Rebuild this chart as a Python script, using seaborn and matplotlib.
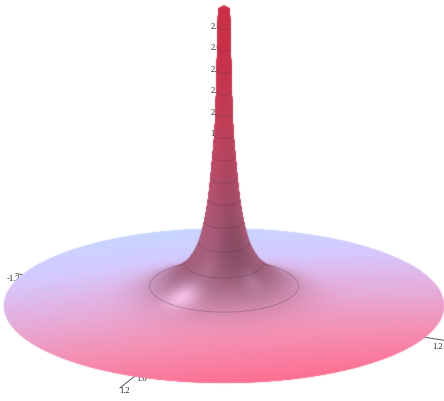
import numpy as np
import matplotlib
matplotlib.use("Agg")
import matplotlib.pyplot as plt
import seaborn as sns
from mpl_toolkits.mplot3d import proj3d

# Radial profile of the surface
profile_r = [0.029, 0.031, 0.034, 0.037, 0.040, 0.043, 0.049, 0.060, 0.070, 0.083, 0.103,
             0.131, 0.196, 0.393, 0.55, 0.75, 1.00, 1.20]
profile_z = [3.00, 2.80, 2.60, 2.40, 2.20, 2.00, 1.80, 1.60, 1.40, 1.20, 1.00,
             0.80, 0.60, 0.40, 0.31, 0.26, 0.23, 0.215]
contour_levels = [0.4, 0.6, 0.8, 1.0, 1.2, 1.4, 1.6, 1.8, 2.0, 2.2, 2.4, 2.6, 2.8]
z_ticks = [2.8, 2.6, 2.4, 2.2, 2.0, 1.8, 1.6, 1.4, 1.2, 1.0]
floor_ticks = [1.0, 1.2]
disk_colors = ["#c6d8ff", "#d6caff", "#e6aedd", "#f58fb3", "#ff6c8f"]
spike_colors = ["#9c647e", "#b05a7a", "#c04a68", "#ca3c56", "#cf3049"]

AZIM, ELEV = 24.0, 20.5
FLOOR = 0.215

sns.set_theme(style="white")
plt.rcParams["font.family"] = ["Liberation Serif", "DejaVu Serif"]
fig = plt.figure(figsize=(4.44, 4.01), dpi=100)
ax = fig.add_axes([0, 0, 1, 1], projection="3d", computed_zorder=False)
ax.set_proj_type("ortho")
ax.view_init(elev=ELEV, azim=AZIM)
ax.set_xlim(-1.2, 1.2); ax.set_ylim(-1.2, 1.2); ax.set_zlim(0, 3)
ax.set_box_aspect((2.4, 2.4, 3 * 0.61))
ax.set_axis_off()

# Smooth mesh through the profile points
idx = np.arange(len(profile_r))
p = np.linspace(0, idx[-1], 500)
lr = np.interp(p, idx, np.log(profile_r))
lz = np.interp(p, idx, profile_z)
kernel = np.hanning(61); kernel /= kernel.sum()
smooth = lambda v: np.convolve(np.pad(v, 30, mode="edge"), kernel, mode="valid")
r = np.r_[0, np.exp(smooth(lr))]
zprof = np.r_[profile_z[0], smooth(lz)]
th = np.linspace(0, 2 * np.pi, 241)
R, TH = np.meshgrid(r, th, indexing="ij")
X, Y = R * np.cos(TH), R * np.sin(TH)
Z = np.repeat(zprof[:, None], th.size, axis=1)

a = np.radians(AZIM)
toward = X * np.cos(a) + Y * np.sin(a)
right = -X * np.sin(a) + Y * np.cos(a)

disk_map = sns.blend_palette(disk_colors, as_cmap=True)
spike_map = sns.blend_palette(spike_colors, as_cmap=True)
w = np.clip(0.5 + 0.5 * (toward + 0.22 * right) / 1.25, 0, 1)
base = disk_map(w)[..., :3]
spike = spike_map(np.clip((Z - 0.45) / 2.2, 0, 1))[..., :3]
m = np.clip((Z - 0.27) / 0.35, 0, 1)
mix = (m * m * (3 - 2 * m))[..., None]
rgb = base * (1 - mix) + spike * mix

# soft shading of the throat
dark = np.exp(-((toward - 0.12) / 0.07) ** 2 - ((right - 0.06) / 0.10) ** 2)
rgb = rgb * (1 - 0.2 * dark[..., None])
# highlights on the shoulder
h1 = np.exp(-((right + 0.224) / 0.09) ** 2 - ((toward - 0.25) / 0.085) ** 2)
h2 = np.exp(-((right - 0.14) / 0.05) ** 2 - ((toward - 0.18) / 0.05) ** 2)
h3 = np.exp(-((right + 0.08) / 0.05) ** 2 - ((toward - 0.16) / 0.05) ** 2)
white = np.array([1.0, 0.80, 0.96])
rgb = rgb + (white - rgb) * (0.85 * h1 + 0.22 * h2 + 0.10 * h3)[..., None]
rgb = np.clip(rgb, 0, 1)
fc = np.dstack([rgb, np.ones(rgb.shape[:2])])

M = ax.get_proj()


def soften(img, dpi):
    """Slight blur of the rendered surface layer: gives a clean soft silhouette."""
    pad = 3
    img = np.pad(img, ((pad, pad), (pad, pad), (0, 0)))
    pm = img.copy()
    pm[..., :3] *= pm[..., 3:]
    g = np.exp(-0.5 * (np.arange(-pad, pad + 1) / 0.45) ** 2)
    g /= g.sum()
    for axis in (0, 1):
        pm = np.apply_along_axis(lambda v: np.convolve(v, g, mode="same"), axis, pm)
    al = np.clip(pm[..., 3:], 1e-4, 1)
    out = np.clip(np.dstack([pm[..., :3] / al, al]), 0, 1)
    return out, -pad, -pad


def label(px, py, pz, s):
    """Real 2D text at the projected position of a 3D point, behind the surface."""
    u, v, _ = proj3d.proj_transform(px, py, pz, M)
    ax.annotate(s, xy=(u, v), xycoords="data", fontsize=6.2, color="#222222",
                zorder=1, ha="center", va="center", annotation_clip=False)


# Axis decoration behind the surface
tick_kw = dict(color="#555555", lw=0.7, zorder=1)
ax.plot([0.98, 1.36], [0, 0], [FLOOR, FLOOR], **tick_kw)
ax.plot([0, 0], [0.98, 1.30], [FLOOR, FLOOR], **tick_kw)
ax.plot([0, 0], [-1.21, -1.1], [FLOOR, FLOOR], **tick_kw)
label(1.19, 0.05, FLOOR, f"{floor_ticks[0]:.1f}")
label(1.39, 0.043, FLOOR, f"{floor_ticks[1]:.1f}")
label(0.11, 1.29, FLOOR, f"{floor_ticks[1]:.1f}")
label(0.08, -1.19, FLOOR, f"-{floor_ticks[1]:.1f}")
for t in z_ticks:
    label(0.0, -0.046, t, f"{t:.1f}")

surf = ax.plot_surface(X, Y, Z, facecolors=fc, rstride=1, cstride=1, shade=False,
                       linewidth=0.6, antialiased=True, zorder=2)
surf.set_agg_filter(soften)

# Contour rings on the surface
for lev in contour_levels:
    rr = np.interp(lev, zprof[1:][::-1], r[1:][::-1])
    t = np.linspace(0, 2 * np.pi, 361)
    xr, yr = rr * np.cos(t), rr * np.sin(t)
    side = -xr * np.sin(a) + yr * np.cos(a)
    depth = xr * np.cos(a) + yr * np.sin(a)
    if lev > 0.45:
        keep = depth >= 0
    else:
        keep = (depth >= 0) | (np.abs(side) > 0.205)
    yv = np.where(keep, yr, np.nan)
    ax.plot(xr, yv, np.full_like(t, lev), color="#4d3344", lw=0.55, alpha=0.34, zorder=3)


# Fit the drawing to the canvas: disk centre and radius in pixels
def pix(px, py, pz):
    u, v, _ = proj3d.proj_transform(px, py, pz, M)
    return ax.transData.transform((u, v))


fig.canvas.draw()
c0 = pix(0, 0, FLOOR)
ex = pix(-1.2 * np.sin(a), 1.2 * np.cos(a), FLOOR)
scale = 226.0 / (ex[0] - c0[0])
W = 401 * scale
ax.set_position([0, 0, W / 444, W / 401])
fig.canvas.draw()
c1 = pix(0, 0, FLOOR)
dx = 224 - c1[0]; dy = (401 - 306) - c1[1]
ax.set_position([dx / 444, dy / 401, W / 444, W / 401])

fig.savefig("out.png", dpi=100)
